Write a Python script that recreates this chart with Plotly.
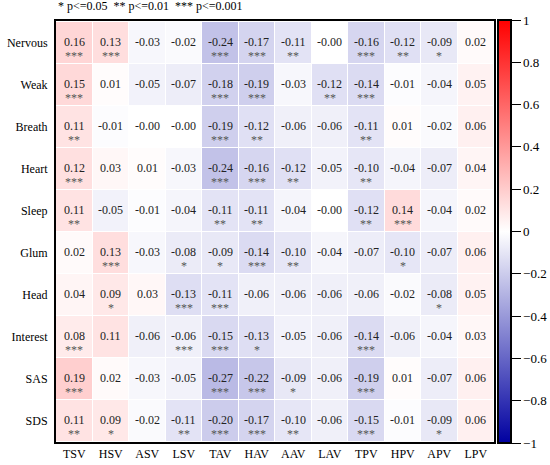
import plotly.graph_objects as go

rows = ["Nervous", "Weak", "Breath", "Heart", "Sleep", "Glum", "Head", "Interest", "SAS", "SDS"]
cols = ["TSV", "HSV", "ASV", "LSV", "TAV", "HAV", "AAV", "LAV", "TPV", "HPV", "APV", "LPV"]

corr = [
    [0.16, 0.13, -0.03, -0.02, -0.24, -0.17, -0.11, -0.00, -0.16, -0.12, -0.09, 0.02],
    [0.15, 0.01, -0.05, -0.07, -0.18, -0.19, -0.03, -0.12, -0.14, -0.01, -0.04, 0.05],
    [0.11, -0.01, -0.00, -0.00, -0.19, -0.12, -0.06, -0.06, -0.11, 0.01, -0.02, 0.06],
    [0.12, 0.03, 0.01, -0.03, -0.24, -0.16, -0.12, -0.05, -0.10, -0.04, -0.07, 0.04],
    [0.11, -0.05, -0.01, -0.04, -0.11, -0.11, -0.04, -0.00, -0.12, 0.14, -0.04, 0.02],
    [0.02, 0.13, -0.03, -0.08, -0.09, -0.14, -0.10, -0.04, -0.07, -0.10, -0.07, 0.06],
    [0.04, 0.09, 0.03, -0.13, -0.11, -0.06, -0.06, -0.06, -0.06, -0.02, -0.08, 0.05],
    [0.08, 0.11, -0.06, -0.06, -0.15, -0.13, -0.05, -0.06, -0.14, -0.06, -0.04, 0.03],
    [0.19, 0.02, -0.03, -0.05, -0.27, -0.22, -0.09, -0.06, -0.19, 0.01, -0.07, 0.06],
    [0.11, 0.09, -0.02, -0.11, -0.20, -0.17, -0.10, -0.06, -0.15, -0.01, -0.09, 0.06],
]

stars = [
    ["***", "***", "", "", "***", "***", "**", "", "***", "**", "*", ""],
    ["***", "", "", "", "***", "***", "", "**", "***", "", "", ""],
    ["**", "", "", "", "***", "**", "", "", "**", "", "", ""],
    ["***", "", "", "", "***", "***", "**", "", "**", "", "", ""],
    ["**", "", "", "", "**", "**", "", "", "**", "***", "", ""],
    ["", "***", "", "*", "*", "***", "**", "", "", "*", "", ""],
    ["", "*", "", "***", "***", "", "", "", "", "", "*", ""],
    ["***", "", "", "***", "***", "*", "", "", "***", "", "", ""],
    ["***", "", "", "", "***", "***", "*", "", "***", "", "", ""],
    ["**", "*", "", "**", "***", "***", "**", "", "***", "", "*", ""],
]

cbar_vals = [-1, -0.8, -0.6, -0.4, -0.2, 0, 0.2, 0.4, 0.6, 0.8, 1]
cbar_text = ["−1", "−0.8", "−0.6", "−0.4", "−0.2", "0", "0.2", "0.4", "0.6", "0.8", "1"]

FONT = "Liberation Serif, Times New Roman, serif"

fig = go.Figure()
fig.add_trace(
    go.Heatmap(
        z=corr,
        x=cols,
        y=rows,
        zmin=-1,
        zmax=1,
        xgap=1,
        ygap=1,
        colorscale=[[0, "#0000a0"], [0.5, "#ffffff"], [1, "#ff0000"]],
        colorbar=dict(
            x=1.009,
            xanchor="left",
            xpad=0,
            y=0.5,
            yanchor="middle",
            len=1.005,
            ypad=0,
            thickness=13,
            outlinewidth=2,
            outlinecolor="black",
            tickvals=cbar_vals,
            ticktext=cbar_text,
            ticks="outside",
            ticklen=9,
            tickwidth=1,
            tickcolor="black",
            tickfont=dict(family=FONT, size=13, color="black"),
        ),
        hoverinfo="skip",
    )
)

for i, r in enumerate(rows):
    for j, c in enumerate(cols):
        fig.add_annotation(
            x=c, y=r, text=f"{corr[i][j]:.2f}", showarrow=False,
            yshift=1, font=dict(family=FONT, size=12, color="#222"),
        )
        if stars[i][j]:
            fig.add_annotation(
                x=c, y=r, text=stars[i][j], showarrow=False,
                yshift=-13, font=dict(family=FONT, size=12, color="#555"),
            )

fig.add_annotation(
    xref="paper", yref="paper", x=0.0, y=1.0, yshift=6, xanchor="left", yanchor="bottom",
    text="* p<=0.05  ** p<=0.01  *** p<=0.001", showarrow=False,
    font=dict(family=FONT, size=12, color="black"),
)

fig.update_xaxes(
    showline=True, linewidth=2, linecolor="black", mirror=True,
    ticks="", tickfont=dict(family=FONT, size=12, color="black"),
    showgrid=False, zeroline=False, automargin=False,
)
fig.update_yaxes(
    showline=True, linewidth=2, linecolor="black", mirror=True,
    autorange="reversed", ticks="", ticklabelstandoff=4,
    tickfont=dict(family=FONT, size=12, color="black"),
    showgrid=False, zeroline=False, automargin=False,
)
fig.update_layout(
    width=550,
    height=465,
    margin=dict(l=56, r=56, t=21, b=23, autoexpand=False),
    plot_bgcolor="white",
    paper_bgcolor="white",
    font=dict(family=FONT),
)

# page body has a default 8px margin; drop it so the figure fills the window
fig.write_html(
    "out.html",
    config={"displayModeBar": False},
    post_script="document.body.style.margin='0px';",
)
